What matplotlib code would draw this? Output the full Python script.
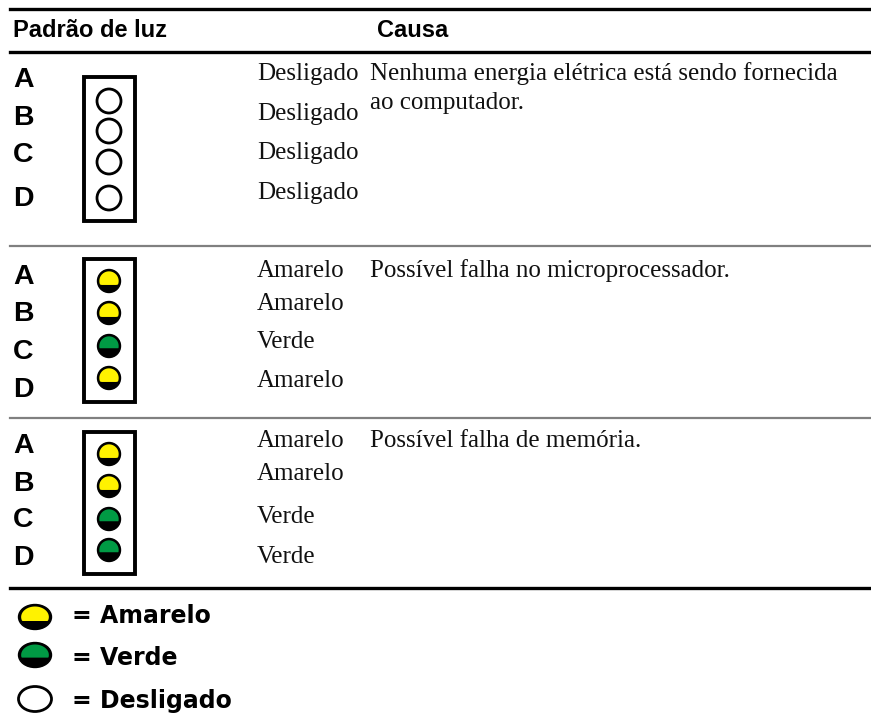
import numpy as np
import matplotlib
matplotlib.use("Agg")
import matplotlib.pyplot as plt
from matplotlib.patches import Ellipse, Polygon, Rectangle

# table content
header_left = "Padrão de luz"
header_right = "Causa"
letters = ["A", "B", "C", "D"]
states_row1 = ["Desligado", "Desligado", "Desligado", "Desligado"]
states_row2 = ["Amarelo", "Amarelo", "Verde", "Amarelo"]
states_row3 = ["Amarelo", "Amarelo", "Verde", "Verde"]
causes = [
    ["Nenhuma energia elétrica está sendo fornecida", "ao computador."],
    ["Possível falha no microprocessador."],
    ["Possível falha de memória."],
]
legend_states = ["Amarelo", "Verde", "Desligado"]

YELLOW = "#fff200"
GREEN = "#009a44"

# layout (pixel coordinates)
row_states = [states_row1, states_row2, states_row3]
letter_base = [[87, 125, 162, 206], [284, 321, 359, 397], [453, 491, 527, 565]]
state_base = [[80, 120, 159, 199], [277, 310, 348, 387], [447, 480, 523, 563]]
lamp_y = [[101, 131, 162, 198], [281, 313, 346, 378], [454, 486, 519, 550]]
box_y = [(77, 221), (259, 402), (432, 574)]
cause_base = [[80, 109], [277], [447]]

fig = plt.figure(figsize=(8.71, 7.18), dpi=100)
ax = fig.add_axes([0, 0, 1, 1])
ax.set_xlim(0, 871)
ax.set_ylim(718, 0)
ax.axis("off")

sans = "Liberation Sans"
serif = "Liberation Serif"


def lamp(cx, cy, r, state, rx=None):
    rx = rx if rx is not None else r
    if state == "Desligado":
        ax.add_patch(Ellipse((cx, cy), 2 * rx, 2 * r, facecolor="white",
                             edgecolor="black", lw=2.0, zorder=3))
        return
    ax.add_patch(Ellipse((cx, cy), 2 * rx, 2 * r, facecolor="black",
                         edgecolor="black", lw=1.0, zorder=3))
    ri, rxi = r * 0.84, rx * 0.84
    if state == "Amarelo":
        color, side, mid = YELLOW, -0.36, -0.22
    else:
        color, side, mid = GREEN, -0.22, 0.12
    a0 = np.arcsin(side)
    t = np.linspace(a0, np.pi - a0, 60)
    top = np.column_stack([cx + rxi * np.cos(t), cy - ri * np.sin(t)])
    u = np.linspace(-1, 1, 30)
    xs = cx - rxi * np.cos(a0) * u
    ys = cy - ri * (side + (mid - side) * (1 - u ** 2))
    bottom = np.column_stack([xs, ys])
    ax.add_patch(Polygon(np.vstack([top, bottom]), closed=True,
                         facecolor=color, edgecolor="none", zorder=4))


# rules
ax.plot([10, 871], [9, 9], color="black", lw=2.4)
ax.plot([10, 871], [52, 52], color="black", lw=2.4)
ax.plot([10, 871], [246, 246], color="#808080", lw=1.6)
ax.plot([10, 871], [418, 418], color="#808080", lw=1.6)
ax.plot([10, 871], [588, 588], color="black", lw=2.4)

ax.text(13, 37, header_left, fontsize=17, fontweight="bold", family=sans,
        va="baseline", ha="left")
ax.text(377, 37, header_right, fontsize=17, fontweight="bold", family=sans,
        va="baseline", ha="left")

for i, states in enumerate(row_states):
    y0, y1 = box_y[i]
    ax.add_patch(Rectangle((84, y0), 51, y1 - y0, facecolor="white",
                           edgecolor="black", lw=2.8, zorder=2))
    for j, st in enumerate(states):
        ax.text(13, letter_base[i][j], letters[j], fontsize=20.5,
                fontweight="bold", family=sans, va="baseline")
        lamp(109, lamp_y[i][j], 11.5 if i else 12, st)
        ax.text(257, state_base[i][j], st, fontsize=18, family=serif,
                va="baseline", color="#111111")
    for k, line in enumerate(causes[i]):
        ax.text(370, cause_base[i][k], line, fontsize=18, family=serif,
                va="baseline", color="#111111")

# legend
leg_y = [617, 655, 699]
leg_base = [623, 665, 708]
for st, y, yb in zip(legend_states, leg_y, leg_base):
    lamp(35, y, 12.5, st, rx=16.5)
    ax.text(72, yb, "= " + st, fontsize=17, fontweight="bold",
            family="DejaVu Sans", va="baseline")

fig.savefig("out.png", dpi=100)
